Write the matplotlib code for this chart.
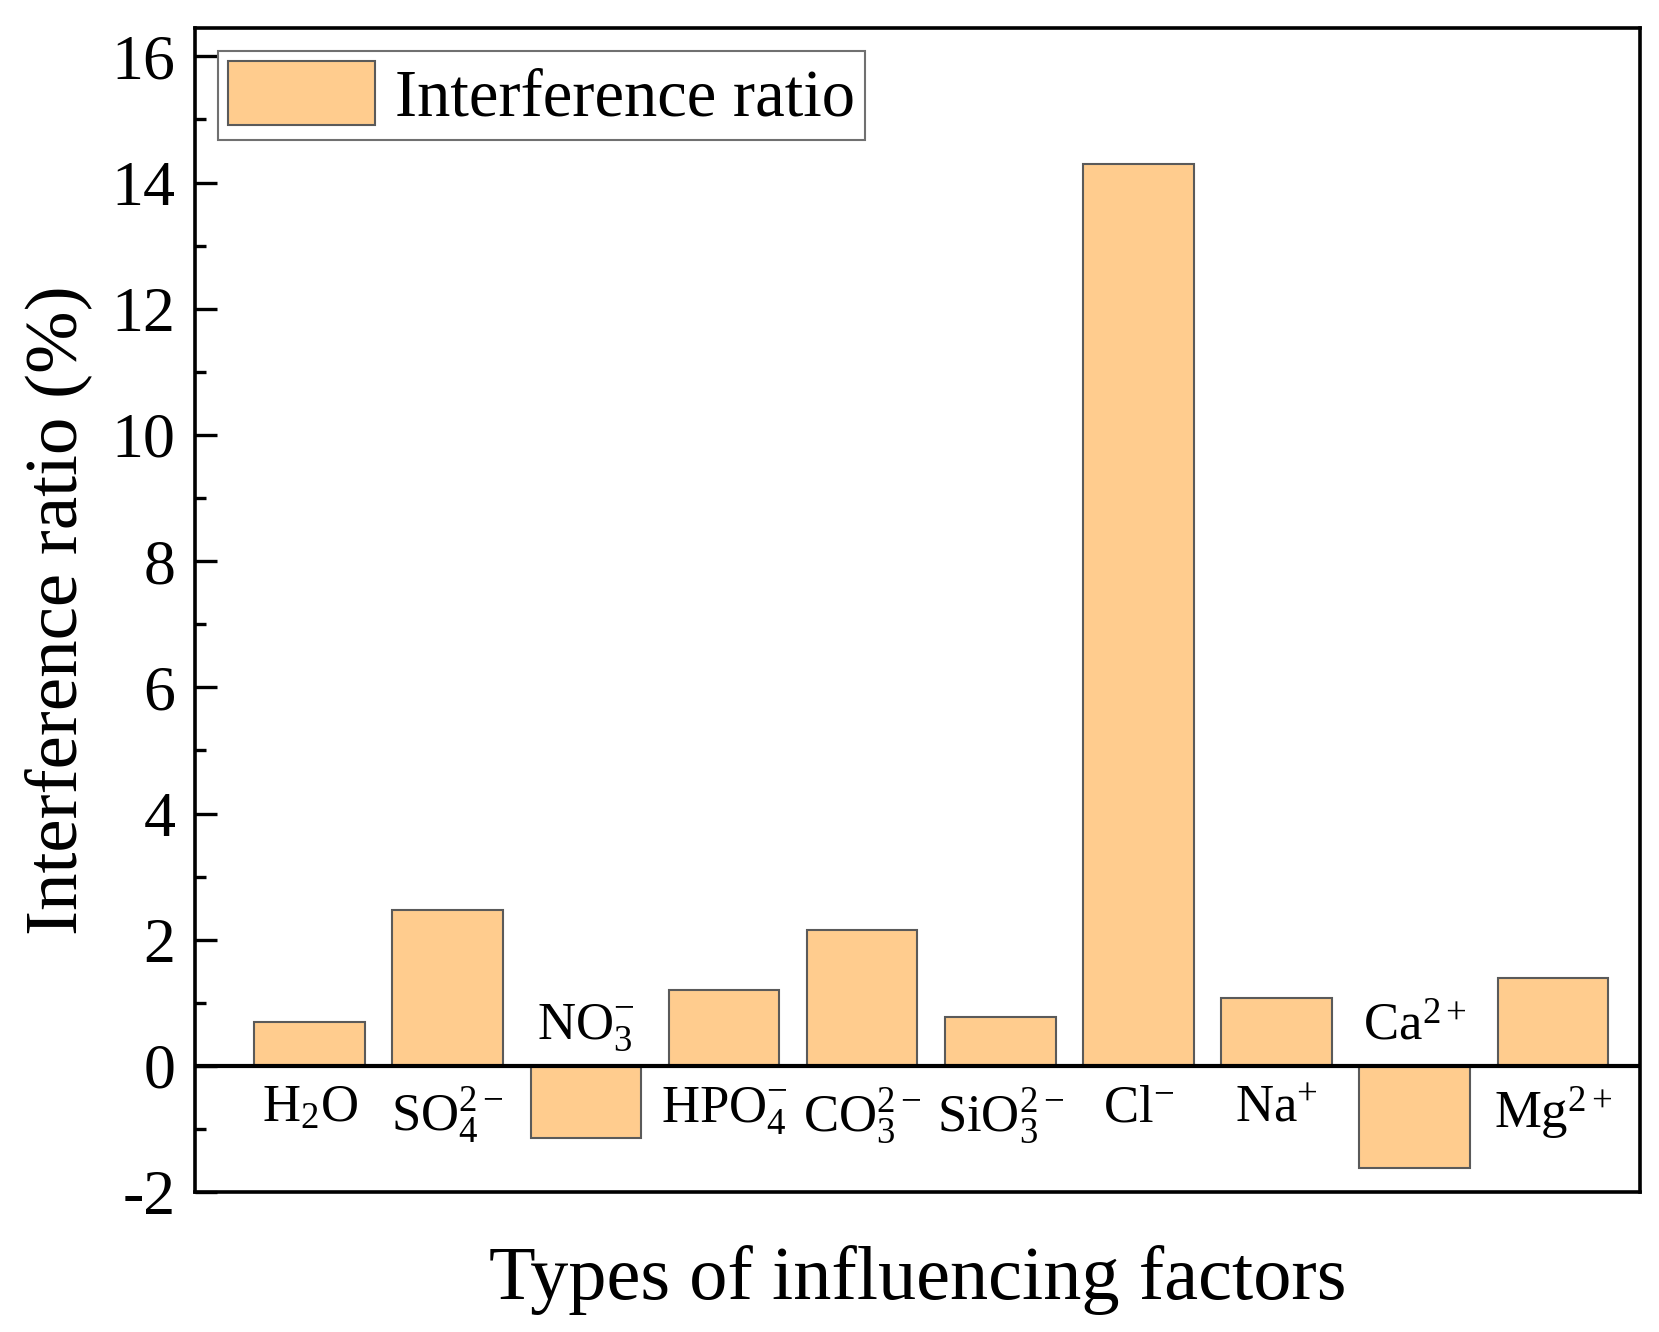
import matplotlib
matplotlib.use('Agg')
import matplotlib.pyplot as plt
from matplotlib.ticker import MultipleLocator

plt.rcParams['font.family'] = 'Liberation Serif'
plt.rcParams['mathtext.fontset'] = 'custom'
plt.rcParams['mathtext.rm'] = 'Liberation Serif'
plt.rcParams['mathtext.it'] = 'Liberation Serif:italic'

# data
labels = [r'$\mathrm{H_2O}$', r'$\mathrm{SO_4^{2-}}$', r'$\mathrm{NO_3^{-}}$',
          r'$\mathrm{HPO_4^{-}}$', r'$\mathrm{CO_3^{2-}}$', r'$\mathrm{SiO_3^{2-}}$',
          r'$\mathrm{Cl^{-}}$', r'$\mathrm{Na^{+}}$', r'$\mathrm{Ca^{2+}}$',
          r'$\mathrm{Mg^{2+}}$']
values = [0.70, 2.47, -1.14, 1.21, 2.16, 0.77, 14.30, 1.07, -1.61, 1.39]

BAR = '#FFCC8E'

fig = plt.figure(figsize=(16.59, 13.32), dpi=100)
ax = fig.add_axes([0.1175, 0.105, 0.871, 0.874])

x = list(range(len(values)))
ax.bar(x, values, width=0.8, color=BAR, edgecolor='#5a5a5a', linewidth=1.5,
       label='Interference ratio', zorder=2)
ax.axhline(0, color='black', lw=3, zorder=3)

# category labels next to the zero line
for xi, v, lab in zip(x, values, labels):
    if v >= 0:
        ax.text(xi, -0.3, lab, ha='center', va='top', fontsize=38, zorder=4)
    else:
        ax.text(xi, 1.0, lab, ha='center', va='top', fontsize=38, zorder=4)

ax.set_xlim(-0.83, 9.63)
ax.set_ylim(-2, 16.45)
ax.set_xticks([])
ax.yaxis.set_major_locator(MultipleLocator(2))
ax.yaxis.set_minor_locator(MultipleLocator(1))
ax.tick_params(axis='y', which='major', direction='in', length=16, width=2.4,
               labelsize=46, pad=14)
ax.tick_params(axis='y', which='minor', direction='in', length=8, width=2.4)
ax.set_yticks([-2, 0, 2, 4, 6, 8, 10, 12, 14, 16])
ax.set_yticklabels(['-2', '0', '2', '4', '6', '8', '10', '12', '14', '16'])

for s in ax.spines.values():
    s.set_linewidth(2.6)

ax.set_ylabel('Interference ratio (%)', fontsize=54, labelpad=14)
ax.set_xlabel('Types of influencing factors', fontsize=55, labelpad=38)

leg = ax.legend(loc='upper left', fontsize=48, fancybox=False, framealpha=1,
                edgecolor='#707070', handlelength=2.2, handleheight=1.1,
                borderaxespad=0.35, borderpad=0.15, handletextpad=0.3)
leg.get_frame().set_linewidth(1.5)

fig.savefig('out.png', dpi=100, facecolor='white')
